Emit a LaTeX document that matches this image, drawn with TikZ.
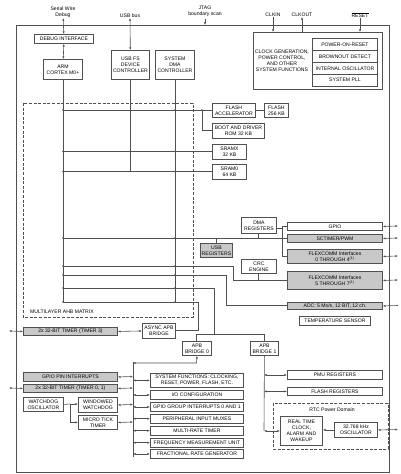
\documentclass[tikz,border=0pt]{standalone}
\usepackage{fontspec}
\setmainfont{Liberation Sans}
\usetikzlibrary{arrows.meta}
\definecolor{lc}{HTML}{505050}
\definecolor{gf}{HTML}{C8C8C8}
\newcommand\fs{\fontsize{5.1}{5.9}\selectfont}
\newcommand\bx[7]{\node[#1,minimum width={(#5-#3)*1pt},minimum height={(#6-#4)*1pt}] (#2) at (#3,#4) {#7};}
\newcommand\jd[1]{\fill[lc] #1 circle (0.9pt);}
\tikzset{
 ln/.style={draw=lc,line width=0.6pt},
 bx/.style={draw=lc,line width=0.9pt,fill=white,font=\fs,align=center,inner sep=0pt,anchor=north west},
 gb/.style={bx,fill=gf},
 arr/.style={ln,-{Latex[length=2.6pt,width=2.2pt]}},
 darr/.style={ln,{Latex[length=2.6pt,width=2.2pt]}-{Latex[length=2.6pt,width=2.2pt]}},
 lbl/.style={font=\fs,align=center,inner sep=0pt},
 dsh/.style={draw=lc,line width=0.9pt,dash pattern=on 3pt off 1.6pt},
}
\begin{document}
\begin{tikzpicture}[x=1pt,y=-1pt]
\useasboundingbox (0,0) rectangle (400,474);
% outer box
\draw[lc,line width=0.9pt] (16,25) rectangle (389,472);
% top labels
\node[lbl] (swd) at (63,12.5) {Serial Wire\\Debug};
\node[lbl] (usbbus) at (130,16) {USB bus};
\node[lbl] (jtag) at (205,11) {JTAG\\boundary scan};
\node[lbl] (clkin) at (273,15) {CLKIN};
\node[lbl] (clkout) at (302,15) {CLKOUT};
\node[lbl] (rst) at (360,15) {$\overline{\mbox{RESET}}$};
% AHB matrix
\draw[dsh] (23,103) rectangle (193,317);
\node[lbl,anchor=west] (ahblbl) at (30,312) {MULTILAYER AHB MATRIX};
% RTC domain
\draw[dsh] (273,403) rectangle (388,449);
\node[lbl] (rtclbl) at (332,409.5) {RTC Power Domain};

% bus lines
\coordinate (a1) at (63,79); \coordinate (a2) at (63,302);
\coordinate (d1) at (175,79); \coordinate (d2) at (175,302);
\draw[ln] (a1) -- (a2);
\draw[ln] (d1) -- (d2);
\draw[ln] (130,79) -- (130,171);
\draw[ln] (63,110) -- (212,110);
\draw[ln] (202,110) |- (212,130.5);
\draw[ln] (63,151.5) -- (212,151.5);
\draw[ln] (63,171.5) -- (212,171.5);
\draw[ln] (63,238) -- (287,238);
\draw[ln] (258.5,233) -- (258.5,238);
\draw[ln] (216,243) -- (216,238);
\draw[ln] (276,228) -- (282,228);
\draw[ln] (287,226) -- (282,226) -- (282,256) -- (287,256);
\draw[ln] (63,266) -- (233,266) -- (233,280) -- (287,280);
\draw[ln] (258.5,273) -- (258.5,280);
\draw[ln] (63,275) -- (226,275) -- (226,305.5) -- (287,305.5);
\draw[ln] (63,288) -- (214,288) -- (214,334);
\draw[ln] (196.5,341) -- (196.5,334) -- (264,334) -- (264,341);
\draw[ln] (63,302) -- (198,302) -- (198,330.5) -- (175,330.5);
\foreach \yy in {110,151.5,171.5,238,266,275,288,302}{\jd{(63,\yy)}\jd{(175,\yy)}}
\jd{(130,151.5)}\jd{(130,171.5)}\jd{(202,110)}

% top blocks
\bx{bx}{dbg}{34}{34}{93}{43}{DEBUG INTERFACE}
\bx{bx}{arm}{43}{59}{82}{79}{ARM\\CORTEX M0+}
\bx{bx}{usb}{111}{50}{149}{79}{USB FS\\DEVICE\\CONTROLLER}
\bx{bx}{sdma}{155}{50}{194}{79}{SYSTEM\\DMA\\CONTROLLER}
\draw[lc,line width=0.9pt,fill=white] (253,32) rectangle (382,89);
\node[lbl] (clktxt) at (282,61) {CLOCK GENERATION,\\POWER CONTROL,\\AND OTHER\\SYSTEM FUNCTIONS};
\bx{bx}{por}{312}{38}{377}{50}{POWER-ON-RESET}
\bx{bx}{bod}{312}{50}{377}{62}{BROWNOUT DETECT}
\bx{bx}{iosc}{312}{62}{377}{74}{INTERNAL OSCILLATOR}
\bx{bx}{pll}{312}{74}{377}{85.5}{SYSTEM PLL}
\draw[darr] (swd) -- (dbg);
\draw[darr] (dbg) -- (arm);
\draw[darr] (usbbus) -- (usb);
\draw[arr] (205,18.5) -- (205,25);
\draw[arr] (clkin) -- (273,32);
\draw[arr] (302,32) -- (clkout);
\draw[arr] (rst) -- (360,32);

% memories
\bx{bx}{flacc}{212}{103}{255}{117}{FLASH\\ACCELERATOR}
\bx{bx}{flash}{264}{103}{288}{117}{FLASH\\256 KB}
\draw[ln] (flacc) -- (flash);
\bx{bx}{boot}{212}{123}{264}{138}{BOOT AND DRIVER\\ROM 32 KB}
\bx{bx}{sramx}{212}{144}{246}{159}{SRAMX\\32 KB}
\bx{bx}{sram0}{212}{164}{246}{179}{SRAM0\\64 KB}

% peripherals AHB
\bx{bx}{dmareg}{241}{217}{276}{233}{DMA\\REGISTERS}
\bx{bx}{gpio}{287}{222}{382}{230}{GPIO}
\bx{gb}{sct}{287}{234}{382}{242}{SCTIMER/PWM}
\bx{gb}{usbreg}{200}{243}{232}{257}{USB\\REGISTERS}
\bx{gb}{fc04}{287}{249}{382}{263}{FLEXCOMM Interfaces\\0 THROUGH 4\textsuperscript{(1)}}
\bx{bx}{crc}{241}{259}{276}{273}{CRC\\ENGINE}
\bx{gb}{fc57}{287}{271}{382}{289}{FLEXCOMM Interfaces\\5 THROUGH 7\textsuperscript{(1)}}
\bx{gb}{adc}{287}{302}{382}{309}{ADC: 5 Ms/s, 12 BIT, 12 ch.}
\bx{bx}{temp}{299}{316}{370}{325}{TEMPERATURE SENSOR}
\draw[darr] (gpio.east) -- (398,226);
\draw[darr] (sct.east) -- (398,238);
\draw[darr] (fc04.east) -- (398,256);
\draw[darr] (fc57.east) -- (398,280);
\draw[arr] (398,305.5) -- (adc.east);

% APB section
\bx{gb}{tim3}{23}{327}{117}{335}{2x 32-BIT TIMER (TIMER 3)}
\bx{bx}{async}{142}{323}{175}{338}{ASYNC APB\\BRIDGE}
\bx{bx}{apb0}{182}{341}{211}{355}{APB\\BRIDGE 0}
\bx{bx}{apb1}{250}{341}{278}{355}{APB\\BRIDGE 1}
\draw[darr] (9,331) -- (tim3.west);
\draw[darr] (tim3.east) -- (async.west);

% APB0 bus
\coordinate (b0t) at (133,362); \coordinate (b0b) at (133,457);
\draw[ln] (b0t) -- (b0b);
\draw[darr] (133,363) -- (196.5,363) -- (apb0.south);

\bx{gb}{gpint}{23}{372}{117}{381}{GPIO PIN INTERRUPTS}
\bx{gb}{tim01}{23}{384}{117}{392}{2x 32-BIT TIMER (TIMER 0, 1)}
\bx{bx}{wdosc}{23}{397}{63}{411}{WATCHDOG\\OSCILLATOR}
\bx{bx}{wwdt}{78}{397}{117}{412}{WINDOWED\\WATCHDOG}
\bx{bx}{utick}{78}{415}{117}{429}{MICRO TICK\\TIMER}
\draw[darr] (gpint.east) -- (133,376.5);
\draw[darr] (tim01.east) -- (133,388);
\draw[darr] (9,388) -- (tim01.west);
\draw[darr] (wwdt.east) -- (133,404.5);
\draw[darr] (utick.east) -- (133,422);
\draw[ln] (wdosc.east) -- (70,404);
\draw[arr] (70,404) -- (78,404);
\draw[arr] (70,404) |- (utick.west);

\bx{bx}{sysf}{150}{373}{243}{387}{SYSTEM FUNCTIONS: CLOCKING,\\RESET, POWER, FLASH, ETC.}
\bx{bx}{ioc}{150}{390}{243}{399}{I/O CONFIGURATION}
\bx{bx}{gint}{150}{402}{243}{411}{GPIO GROUP INTERRUPTS 0 AND 1}
\bx{bx}{pim}{150}{414}{243}{422.5}{PERIPHERAL INPUT MUXES}
\bx{bx}{mrt}{150}{426}{243}{434.5}{MULTI-RATE TIMER}
\bx{bx}{fmu}{150}{438}{243}{446.5}{FREQUENCY MEASUREMENT UNIT}
\bx{bx}{frg}{150}{449}{243}{458}{FRACTIONAL RATE GENERATOR}
\foreach \n in {sysf,ioc,gint,pim,mrt,fmu,frg}{\draw[darr] (\n.west) -- (\n.west -| b0t);}

% APB1 bus
\coordinate (b1b) at (264,430.5);
\draw[ln] (apb1.south) -- (b1b);
\bx{bx}{pmu}{287}{370}{382}{379}{PMU REGISTERS}
\bx{bx}{flreg}{287}{387}{382}{395}{FLASH REGISTERS}
\bx{bx}{rtc}{280}{416}{322}{445}{REAL TIME\\CLOCK,\\ALARM AND\\WAKEUP}
\bx{bx}{xosc}{334}{422}{377}{437}{32.768 kHz\\OSCILLATOR}
\draw[darr] (pmu.west -| b1b) -- (pmu.west);
\draw[darr] (flreg.west -| b1b) -- (flreg.west);
\draw[darr] (rtc.west -| b1b) -- (rtc.west);
\draw[arr] (xosc.west) -- (rtc.east |- xosc.west);
\draw[darr] (xosc.east) -- (398,429.5);
\end{tikzpicture}
\end{document}
